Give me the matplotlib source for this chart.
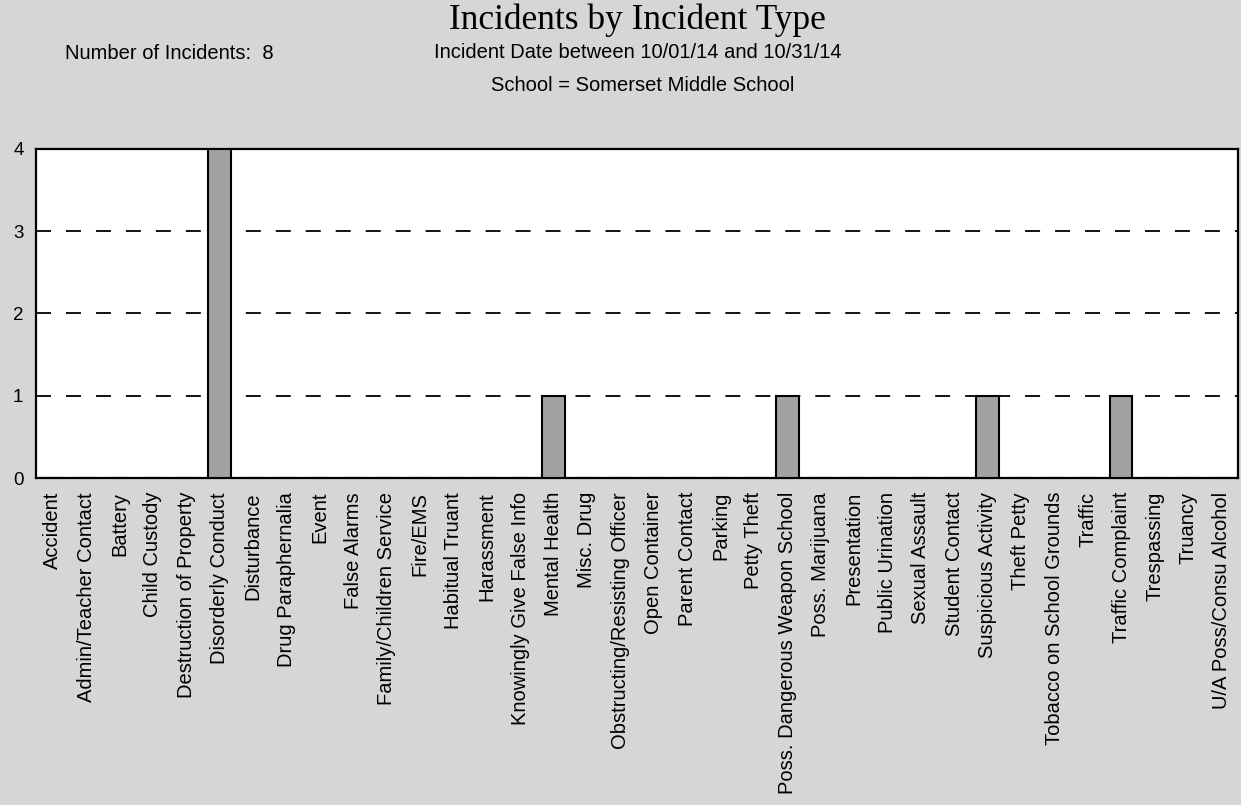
import matplotlib
matplotlib.use("Agg")
import matplotlib.pyplot as plt
import numpy as np

categories = [
    "Accident", "Admin/Teacher Contact", "Battery", "Child Custody",
    "Destruction of Property", "Disorderly Conduct", "Disturbance",
    "Drug Paraphernalia", "Event", "False Alarms", "Family/Children Service",
    "Fire/EMS", "Habitual Truant", "Harassment", "Knowingly Give False Info",
    "Mental Health", "Misc. Drug", "Obstructing/Resisting Officer",
    "Open Container", "Parent Contact", "Parking", "Petty Theft",
    "Poss. Dangerous Weapon School", "Poss. Marijuana", "Presentation",
    "Public Urination", "Sexual Assault", "Student Contact",
    "Suspicious Activity", "Theft Petty", "Tobacco on School Grounds",
    "Traffic", "Traffic Complaint", "Trespassing", "Truancy",
    "U/A Poss/Consu Alcohol",
]
counts = [0, 0, 0, 0, 0, 4, 0, 0, 0, 0, 0, 0, 0, 0, 0, 1, 0, 0, 0, 0, 0, 0,
          1, 0, 0, 0, 0, 0, 1, 0, 0, 0, 1, 0, 0, 0]
y_ticks = [0, 1, 2, 3, 4]

title = "Incidents by Incident Type"
count_text = "Number of Incidents:  8"
sub1 = "Incident Date between 10/01/14 and 10/31/14"
sub2 = "School = Somerset Middle School"

W, H = 1241, 805
bg = "#d6d6d6"
fig = plt.figure(figsize=(W / 100, H / 100), dpi=100, facecolor=bg)
ax = fig.add_axes([36 / W, 1 - 478 / H, (1238 - 36) / W, (478 - 149) / H])
ax.set_facecolor("white")

x = np.arange(len(categories))
ax.bar(x, counts, width=0.68, color="#a2a2a2", edgecolor="black",
       linewidth=1.5, zorder=3)

ax.set_xlim(-0.5, len(categories) - 0.5)
ax.set_ylim(0, 4)
ax.set_yticks(y_ticks)
ax.set_yticklabels([str(v) for v in y_ticks], fontsize=13.5,
                   family="Liberation Sans")
for v in y_ticks[1:-1]:
    ax.plot([-0.5, len(categories) - 0.5], [v, v], color="black",
            linewidth=1.3, dashes=(8.3, 8.3), zorder=2)

ax.set_xticks(x)
ax.set_xticklabels(categories, rotation=90, fontsize=14.5,
                   family="Liberation Sans")
ax.tick_params(axis="both", length=0)
ax.tick_params(axis="x", pad=10)
ax.tick_params(axis="y", pad=9)
for s in ax.spines.values():
    s.set_linewidth(1.6)
    s.set_color("black")

fig.text(637 / W, 1 - 29 / H, title, ha="center", va="baseline",
         fontsize=25.5, family="Liberation Serif")
fig.text(65 / W, 1 - 59 / H, count_text, ha="left", va="baseline",
         fontsize=14.5, family="Liberation Sans")
fig.text(638 / W, 1 - 58 / H, sub1, ha="center", va="baseline",
         fontsize=14.5, family="Liberation Sans")
fig.text(643 / W, 1 - 91 / H, sub2, ha="center", va="baseline",
         fontsize=14.5, family="Liberation Sans")

fig.savefig("out.png", dpi=100, facecolor=bg)
